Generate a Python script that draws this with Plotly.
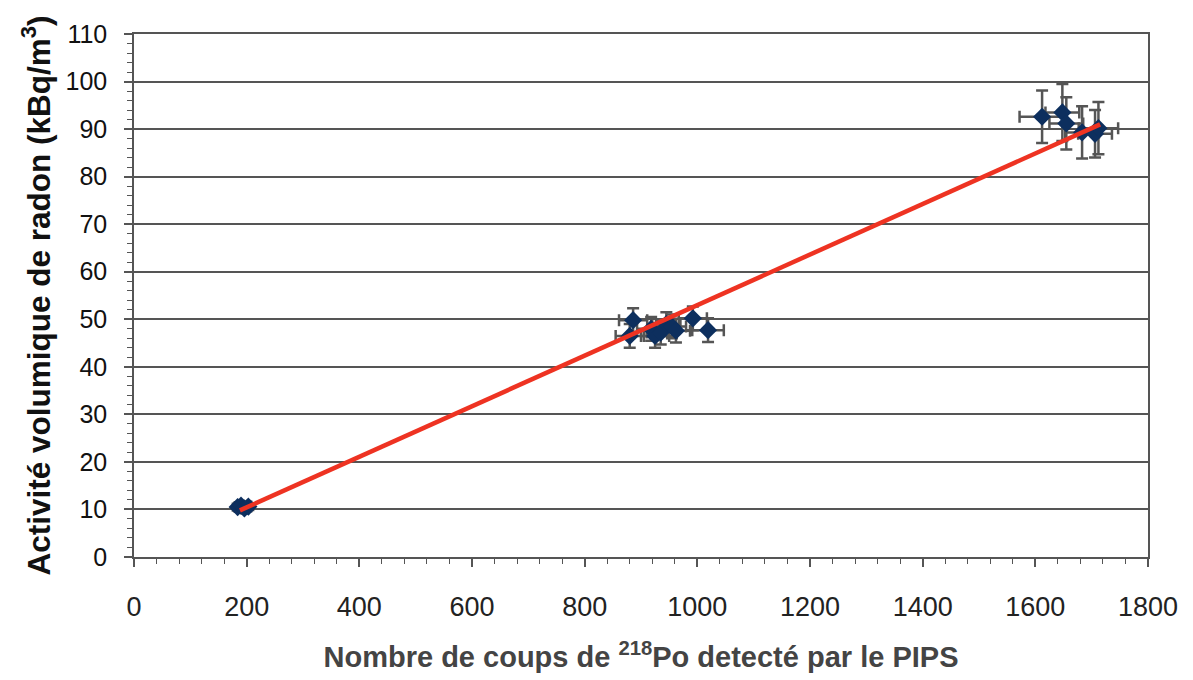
import plotly.graph_objects as go

# Data
counts = [184, 190, 196, 203,
          880, 886, 918, 925, 935, 945, 955, 962, 992, 1019,
          1612, 1648, 1655, 1683, 1706, 1712]
activity = [10.5, 10.8, 10.2, 10.6,
            46.5, 49.8, 48.0, 46.5, 47.2, 49.0, 48.5, 47.6, 50.2, 47.7,
            92.6, 93.5, 91.2, 89.3, 89.0, 90.2]
counts_err = [5, 5, 5, 5,
              25, 25, 25, 25, 25, 25, 25, 25, 25, 28,
              40, 30, 30, 30, 30, 35]
activity_err = [0.7, 0.7, 0.7, 0.7,
                2.5, 2.5, 2.5, 2.5, 2.5, 2.5, 2.5, 2.5, 2.5, 2.5,
                5.5, 6.0, 5.5, 5.5, 5.0, 5.5]

# Linear trendline as drawn in the picture
trend_x = [188, 1715]
trend_y = [9.8, 91.0]

x_ticks = [0, 200, 400, 600, 800, 1000, 1200, 1400, 1600, 1800]
y_ticks = [0, 10, 20, 30, 40, 50, 60, 70, 80, 90, 100, 110]

fig = go.Figure()
fig.add_trace(go.Scatter(
    x=counts, y=activity, mode="markers",
    marker=dict(symbol="diamond", size=14, color="#0d2f5e"),
    error_x=dict(type="data", array=counts_err, color="#555555", thickness=2.5, width=6),
    error_y=dict(type="data", array=activity_err, color="#555555", thickness=2.5, width=6),
    showlegend=False,
))
fig.add_trace(go.Scatter(
    x=trend_x, y=trend_y, mode="lines",
    line=dict(color="#ee3322", width=4.5),
    showlegend=False,
))

FONT = "Liberation Sans, Arial, sans-serif"

fig.update_layout(
    width=1185, height=672,
    margin=dict(l=126, r=45, t=19, b=123),
    paper_bgcolor="white", plot_bgcolor="white",
    font=dict(family=FONT, color="#1a1a1a"),
    xaxis=dict(
        range=[0, 1800], tickvals=x_ticks, ticktext=[str(v) for v in x_ticks],
        showgrid=False, zeroline=False,
        showline=True, linecolor="#555555", linewidth=1.5, mirror=True,
        ticks="outside", ticklen=8, tickcolor="#555555", tickwidth=1.5,
        minor=dict(dtick=40, ticks="outside", ticklen=5, tickcolor="#555555", tickwidth=1.2),
        tickfont=dict(size=27, color="#222222", family=FONT),
        ticklabelstandoff=17,
        title=dict(text="Nombre de coups de <sup>218</sup>Po detecté par le PIPS",
                   font=dict(size=29, color="#444444", family=FONT, weight="bold"),
                   standoff=26),
    ),
    yaxis=dict(
        range=[0, 110], tickvals=y_ticks, ticktext=[str(v) for v in y_ticks],
        showgrid=True, gridcolor="#555555", gridwidth=1.5, zeroline=False,
        showline=True, linecolor="#555555", linewidth=1.5, mirror=True,
        ticks="outside", ticklen=8, tickcolor="#555555", tickwidth=1.5,
        minor=dict(dtick=2, ticks="outside", ticklen=5, tickcolor="#555555", tickwidth=1.2, showgrid=False),
        tickfont=dict(size=25, color="#111111", family=FONT),
        ticklabelstandoff=12,
        title=dict(text="Activité volumique de radon (kBq/m<sup>3</sup>)",
                   font=dict(size=31.5, color="#111111", family=FONT, weight="bold"),
                   standoff=6),
    ),
)

fig.write_html("out.html")
